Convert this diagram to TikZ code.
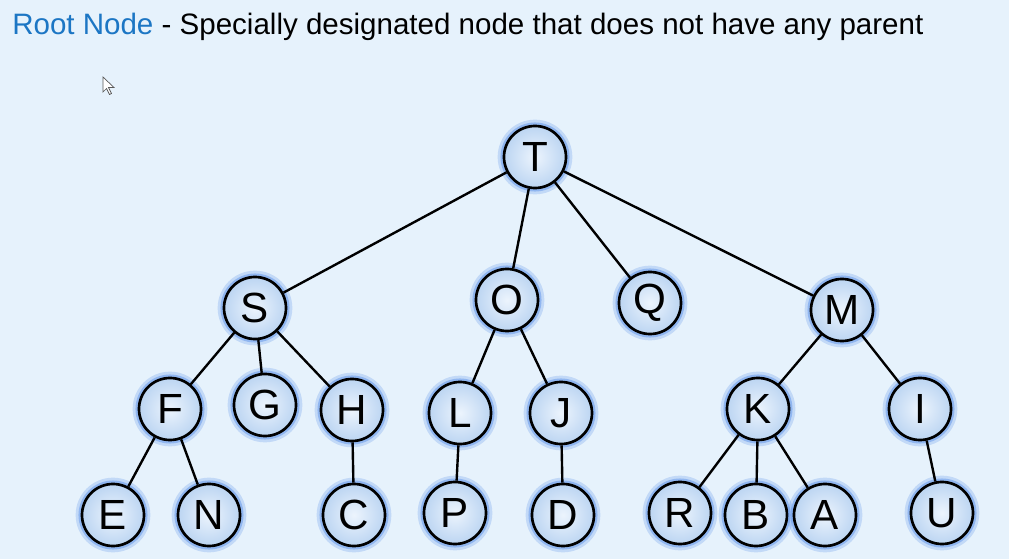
\documentclass[tikz,border=0pt]{standalone}
\usepackage{fontspec}
\setmainfont{Liberation Sans}
\usepackage{tikz}

\definecolor{bgblue}{RGB}{230,242,252}
\definecolor{titleblue}{RGB}{28,118,196}
\definecolor{glowblue}{RGB}{70,130,230}
\definecolor{fillin}{RGB}{236,244,253}
\definecolor{fillout}{RGB}{188,213,242}

\begin{document}
\begin{tikzpicture}[x=0.025cm, y=-0.025cm,
  treenode/.style={circle, minimum size=1.55cm, inner sep=0pt, draw=black, line width=1.9pt,
    inner color=fillin, outer color=fillout,
    preaction={draw=glowblue, line width=9pt, opacity=0.22},
    preaction={draw=glowblue, line width=5pt, opacity=0.4},
    font=\fontsize{30}{33}\selectfont},
  link/.style={draw=black, line width=1.7pt}]
  \fill[bgblue] (0,0) rectangle (1009,559);
  \useasboundingbox (0,0) rectangle (1009,559);

  \node[anchor=base west, inner sep=0pt, font=\fontsize{21}{24}\selectfont] (title) at (12,34.5)
    {\textcolor{titleblue}{Root Node} - Specially designated node that does not have any parent};

  % mouse pointer
  \filldraw[fill=white, draw=gray!70!black, line width=0.5pt]
    (103,77) -- (103,92) -- (106.5,88.5) -- (109.5,94.5) -- (111.5,93.5) -- (108.5,87.5) -- (114,87.5) -- cycle;

  % level 0 and 1
  \node[treenode] (T) at (535,157) {T};
  \node[treenode] (S) at (255,308) {S};
  \node[treenode] (O) at (507,300) {O};
  \node[treenode] (Q) at (650,303) {Q};
  \node[treenode] (M) at (842,310) {M};
  % level 2
  \node[treenode] (F) at (170,409) {F};
  \node[treenode] (G) at (265,405) {G};
  \node[treenode] (H) at (352,410) {H};
  \node[treenode] (L) at (460,413) {L};
  \node[treenode] (J) at (561,413) {J};
  \node[treenode] (K) at (758,409) {K};
  \node[treenode] (I) at (920,409) {I};
  % level 3
  \node[treenode] (E) at (113,515) {E};
  \node[treenode] (N) at (209,515) {N};
  \node[treenode] (C) at (354,515) {C};
  \node[treenode] (P) at (455,513) {P};
  \node[treenode] (D) at (563,515) {D};
  \node[treenode] (R) at (680,513) {R};
  \node[treenode] (B) at (756,515) {B};
  \node[treenode] (A) at (825,515) {A};
  \node[treenode] (U) at (942,513) {U};

  \path[link]
    (T) edge (S) edge (O) edge (Q) edge (M)
    (S) edge (F) edge (G) edge (H)
    (O) edge (L) edge (J)
    (M) edge (K) edge (I)
    (F) edge (E) edge (N)
    (H) edge (C)
    (L) edge (P)
    (J) edge (D)
    (K) edge (R) edge (B) edge (A)
    (I) edge (U)
  ;
\end{tikzpicture}
\end{document}
